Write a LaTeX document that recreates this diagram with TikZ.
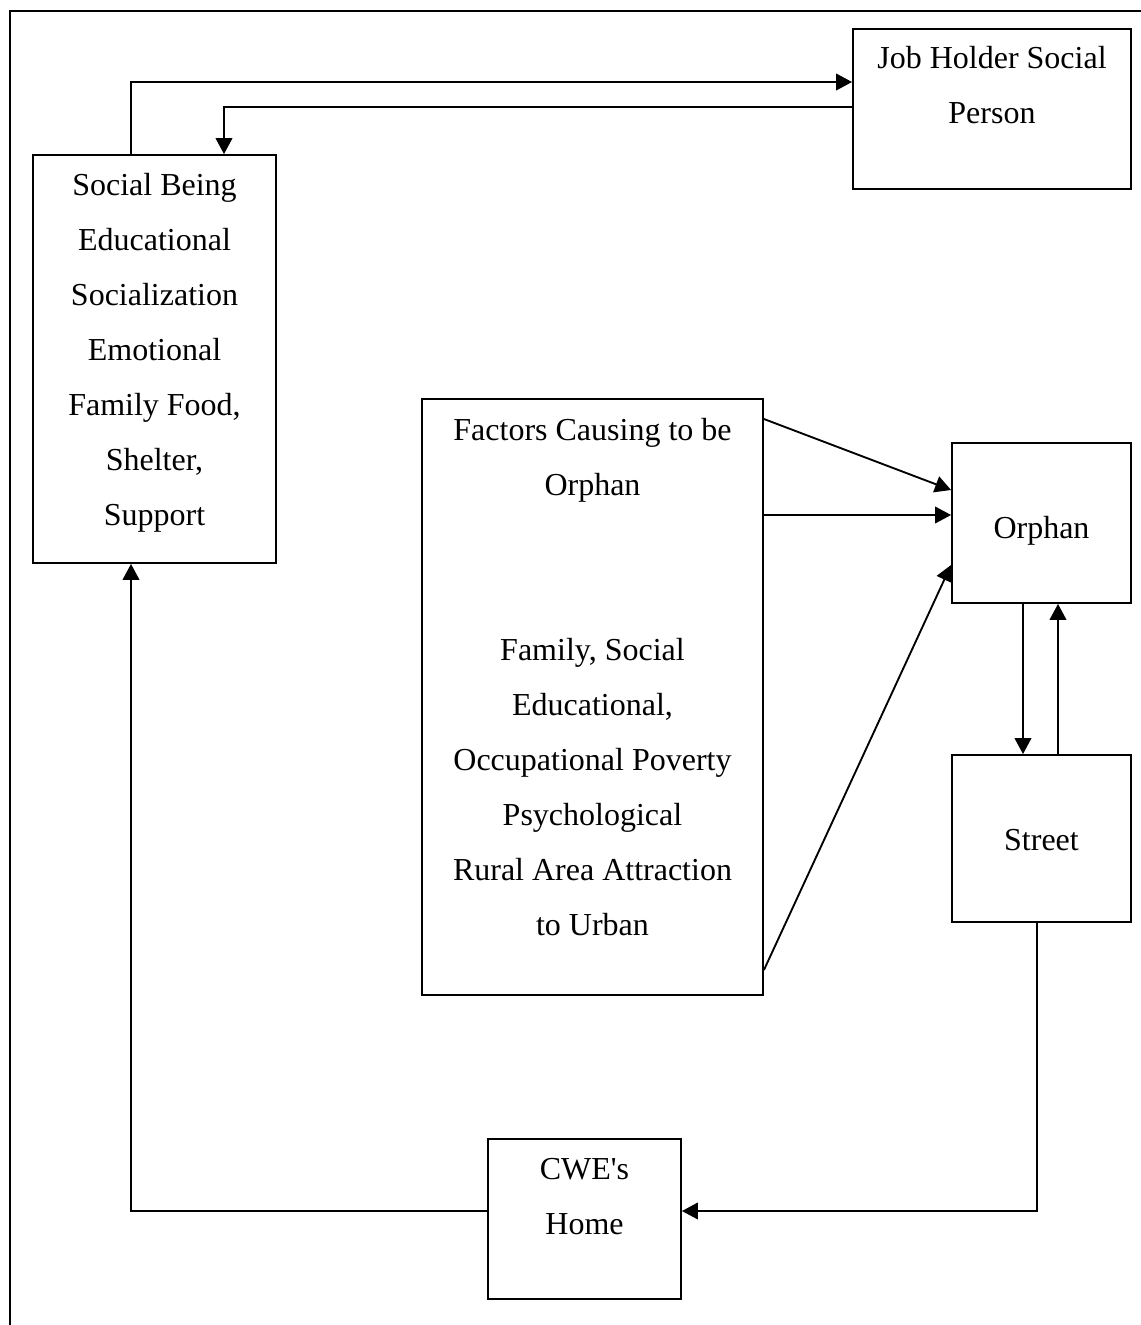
\documentclass[tikz,border=0pt]{standalone}
\usepackage{fontspec}
\newfontfamily\tnr{Liberation Serif}
\usetikzlibrary{arrows.meta,fit}
\tikzset{
  boxx/.style={draw, line width=1.4pt, inner sep=0pt, fit={#1}},
  txt/.style={anchor=north, inner sep=0pt, align=center,
    font=\tnr\fontsize{24}{41.25}\selectfont},
  arr/.style={line width=1.4pt, -{Triangle[length=12pt,width=12.5pt]}},
  ln/.style={line width=1.4pt}
}
\newcommand{\fs}{\strut}
\begin{document}
\begin{tikzpicture}[x=0.75pt,y=-0.75pt]
\useasboundingbox (0,0) rectangle (1141,1325);
\clip (0,0) rectangle (1141,1325);
% outer frame
\draw[ln] (10,11) rectangle (1160,1345);
% helper coordinates
\coordinate (xa) at (131,0);
\coordinate (xb) at (224,0);
\coordinate (xc) at (1023,0);
\coordinate (xd) at (1058,0);
\coordinate (xe) at (1037,0);
\coordinate (ya) at (0,82);
\coordinate (yb) at (0,107);
\coordinate (y1) at (0,419);
\coordinate (y2) at (0,490);
\coordinate (y3) at (0,515);
\coordinate (y4) at (0,970);
\coordinate (y5) at (0,565);
\coordinate (y6) at (0,1211);
% boxes
\node[boxx={(853,29) (1131,189)}] (jh) {};
\node[boxx={(33,155) (276,563)}] (sb) {};
\node[boxx={(422,399) (763,995)}] (fc) {};
\node[boxx={(952,443) (1131,603)}] (or) {};
\node[boxx={(952,755) (1131,922)}] (st) {};
\node[boxx={(488,1139) (681,1299)}] (cw) {};
% texts
\node[txt] (tjh) at (992,30) {\fs Job Holder Social\\Person};
\node[txt] (tsb) at (154.5,156.5) {\fs Social Being\\Educational\\Socialization\\Emotional\\Family Food,\\Shelter,\\Support};
\node[txt] (tfc1) at (592.5,401.5) {\fs Factors Causing to be\\Orphan};
\node[txt] (tfc2) at (592.5,622) {\fs Family, Social\\Educational,\\Occupational Poverty\\Psychological\\Rural Area Attraction\\to Urban};
\node[txt] (tor) at (1041.5,499.5) {\fs Orphan};
\node[txt] (tst) at (1041.5,811.5) {\fs Street};
\node[txt] (tcw) at (584.5,1141) {\fs CWE's\\Home};
% connectors
\draw[arr] (xa |- sb.north) |- (jh.west |- ya);
\draw[arr] (jh.west |- yb) -| (xb |- sb.north);
\draw[arr] (fc.east |- y1) -- (or.west |- y2);
\draw[arr] (fc.east |- y3) -- (or.west |- y3);
\draw[arr] (fc.east |- y4) -- (or.west |- y5);
\draw[arr] (xc |- or.south) -- (xc |- st.north);
\draw[arr] (xd |- st.north) -- (xd |- or.south);
\draw[arr] (xe |- st.south) |- (cw.east |- y6);
\draw[arr] (cw.west |- y6) -| (xa |- sb.south);
\end{tikzpicture}
\end{document}
